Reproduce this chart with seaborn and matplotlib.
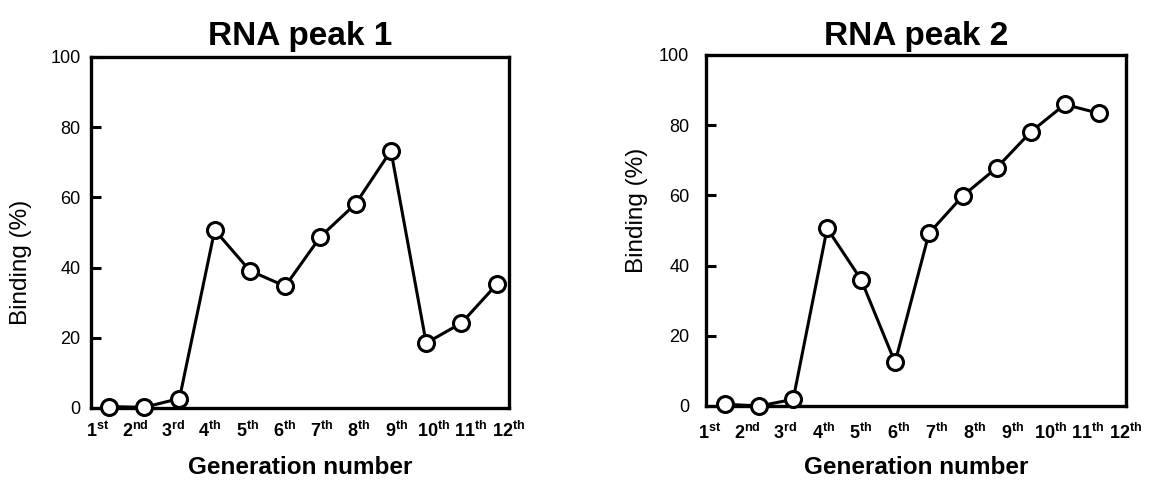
import numpy as np
import pandas as pd
import seaborn as sns
import matplotlib.pyplot as plt

sns.set_theme(style="white")
plt.rcParams["font.family"] = ["Liberation Sans", "DejaVu Sans"]
plt.rcParams["mathtext.fontset"] = "custom"
plt.rcParams["mathtext.rm"] = "Liberation Sans"
plt.rcParams["mathtext.bf"] = "Liberation Sans:bold"
for key in ["text.color", "axes.labelcolor", "xtick.color", "ytick.color"]:
    plt.rcParams[key] = "black"

# Values
generation = list(range(1, 13))
suffixes = ["st", "nd", "rd", "th", "th", "th", "th", "th", "th", "th", "th", "th"]
peak1 = [0.4, 0.2, 2.7, 50.7, 39.1, 34.7, 48.8, 58.2, 73.3, 18.5, 24.2, 35.2]
peak2 = [0.5, 0.0, 1.9, 50.6, 36.0, 12.4, 49.2, 59.9, 67.9, 78.1, 85.9, 83.4]
titles = ["RNA peak 1", "RNA peak 2"]

tick_labels = [r"$\mathbf{%d^{%s}}$" % (g, s) for g, s in zip(generation, suffixes)]

fig = plt.figure(figsize=(11.49, 4.8), dpi=100)
ax1 = fig.add_axes([0.0792, 0.150, 0.3638, 0.7313])
ax2 = fig.add_axes([0.6144, 0.1542, 0.3655, 0.7313])

panels = [
    # ax, values, xlim, label span, ytick pad, ylabel coords, xtick pad, title pad, xlabel y
    (ax1, peak1, (0.49, 12.35), (0.69, 12.33), 7.5, (-0.141, 0.416), 9, 8.6, -0.137),
    (ax2, peak2, (0.43, 12.63), (0.54, 12.80), 12, (-0.138, 0.558), 12, 7, -0.143),
]

for (ax, vals, xlim, span, ypad, ylc, xpad, tpad, xly), title in zip(panels, titles):
    df = pd.DataFrame({"generation": generation, "binding": vals})
    sns.lineplot(
        data=df, x="generation", y="binding", ax=ax,
        color="black", linewidth=2.2, marker="o", markersize=11.5,
        markerfacecolor="white", markeredgecolor="black", markeredgewidth=2.2,
        clip_on=False, zorder=3,
    )
    ax.set_xlim(*xlim)
    ax.set_ylim(0, 100)
    ax.set_xticks(np.linspace(span[0], span[1], 12))
    ax.set_xticklabels(tick_labels, fontsize=13)
    ax.set_yticks([0, 20, 40, 60, 80, 100])
    ax.tick_params(axis="x", length=0, pad=xpad)
    ax.tick_params(axis="y", direction="in", length=7, width=2.2,
                   labelsize=13, pad=ypad, left=True, color="black")
    for sp in ax.spines.values():
        sp.set_linewidth(2.4)
        sp.set_color("black")
    ax.set_title(title, fontsize=24, fontweight="bold", pad=tpad)
    ax.set_ylabel("Binding (%)", fontsize=17.5)
    ax.yaxis.set_label_coords(*ylc)
    ax.set_xlabel("Generation number", fontsize=17.5, fontweight="bold")
    ax.xaxis.set_label_coords(0.5, xly)

fig.savefig("out.png", dpi=100)
